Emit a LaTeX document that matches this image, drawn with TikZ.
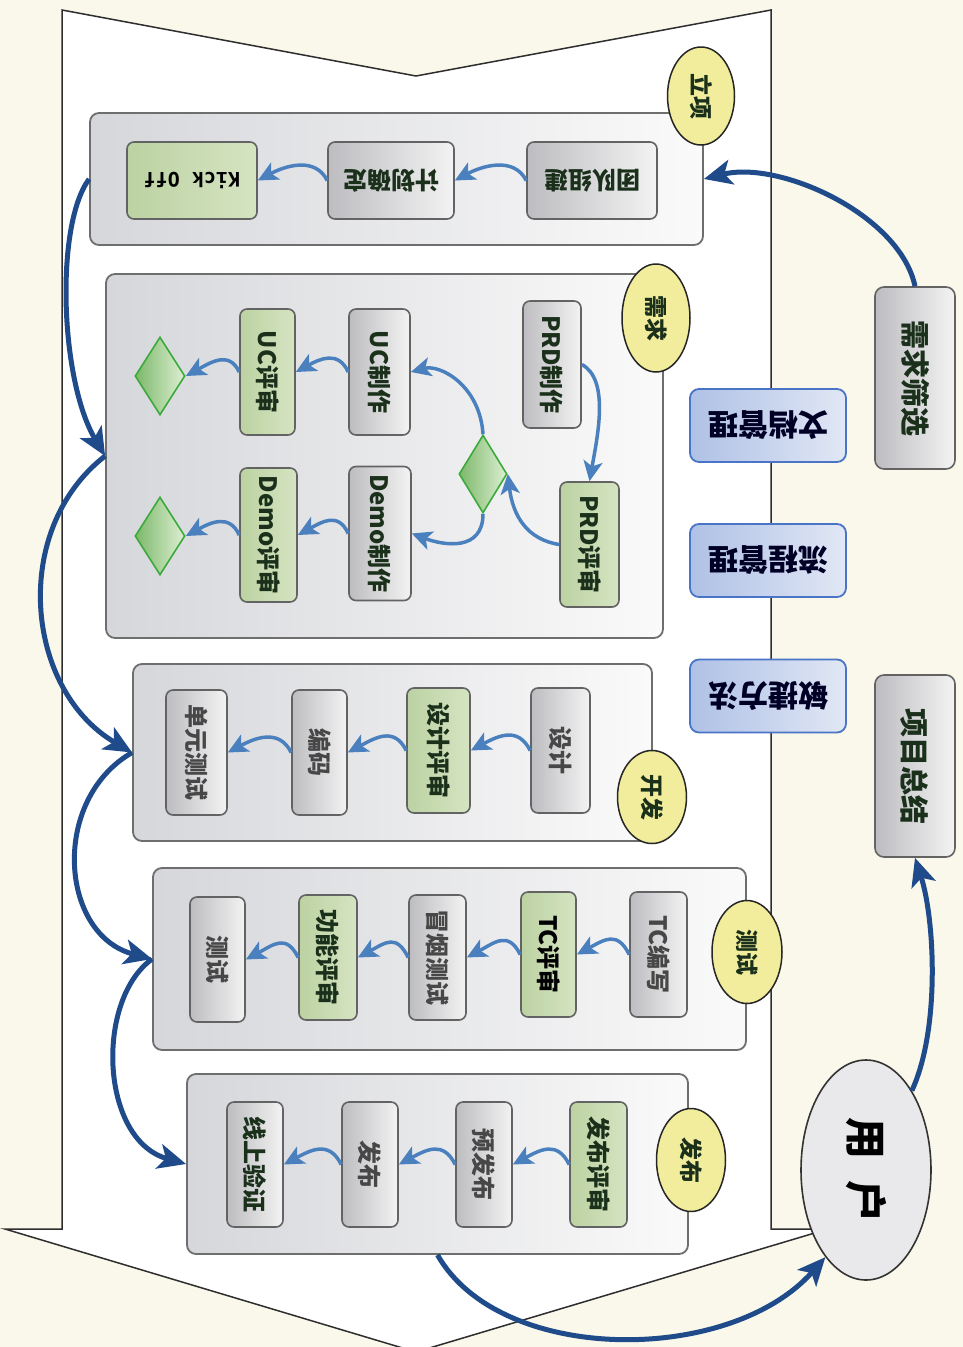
\documentclass[tikz,border=0pt]{standalone}
\usepackage{fontspec}
\usepackage{graphicx}
\setmainfont{Noto Sans CJK SC}
\newfontfamily\monof{DejaVu Sans Mono}
\usetikzlibrary{shapes.geometric,arrows.meta}
\definecolor{bgc}{HTML}{FAF8EA}
\definecolor{bodyline}{HTML}{2E2E2E}
\definecolor{boxline}{HTML}{6E6E6E}
\definecolor{boxl}{HTML}{D6D7DB}
\definecolor{boxr}{HTML}{FAFAFA}
\definecolor{gl}{HTML}{BDBDC1}
\definecolor{gr}{HTML}{F3F3F3}
\definecolor{grl}{HTML}{BCD2A2}
\definecolor{grr}{HTML}{D5E4C2}
\definecolor{dml}{HTML}{7DB86B}
\definecolor{dmr}{HTML}{DDEFD2}
\definecolor{dmline}{HTML}{3CAA3A}
\definecolor{yel}{HTML}{F1ED9C}
\definecolor{bll}{HTML}{AFC1E6}
\definecolor{blr}{HTML}{E1E7F5}
\definecolor{blline}{HTML}{4A74C6}
\definecolor{steel}{HTML}{4A80BD}
\definecolor{navy}{HTML}{1F4B8B}
\definecolor{txtd}{HTML}{1B301B}
\definecolor{txtg}{HTML}{474747}
\definecolor{userfill}{HTML}{E9E9EB}
\newcommand\rv[1]{\rotatebox{-90}{#1}}
\newcommand\ru[1]{\rotatebox{180}{#1}}
\newcommand\flowarr[2]{\draw[flow] (#1.west) .. controls +(-12,-24) and +(28,-15) .. (#2.east);}
\begin{document}
\begin{tikzpicture}[x=1pt,y=-1pt,
  phasebox/.style={rectangle, rounded corners=9pt, draw=boxline, line width=1.8pt, left color=boxl, right color=boxr, inner sep=0pt},
  graynode/.style={rectangle, rounded corners=7pt, draw=boxline!90!black, line width=1.6pt, left color=gl, right color=gr, inner sep=0pt, text=txtd, font=\bfseries\fontsize{24}{26}\selectfont, minimum height=125pt},
  greennode/.style={graynode, left color=grl, right color=grr},
  lightnode/.style={graynode, text=txtg},
  decision/.style={diamond, draw=dmline, line width=1.6pt, left color=dml, right color=dmr, inner sep=0pt, minimum width=50pt, minimum height=78pt},
  phaselabel/.style={ellipse, draw=black!85, line width=1.5pt, fill=yel, inner sep=0pt, text=txtd, font=\bfseries\fontsize{23}{25}\selectfont, minimum width=68pt, minimum height=102pt},
  bluenode/.style={rectangle, rounded corners=9pt, draw=blline, line width=1.8pt, left color=bll, right color=blr, inner sep=0pt, minimum width=156pt, minimum height=73pt, text=black!85!blue, font=\bfseries\fontsize{30}{32}\selectfont},
  sidenode/.style={graynode, minimum width=80pt, minimum height=182pt, font=\bfseries\fontsize{29}{31}\selectfont, rounded corners=9pt},
  flow/.style={draw=steel, line width=3.5pt, -{Stealth[length=20pt,width=19pt,inset=5pt]}},
  bigflow/.style={draw=navy, line width=5pt, -{Stealth[length=28pt,width=25pt,inset=7pt]}}
]
\useasboundingbox (0,0) rectangle (963,1347);
\fill[bgc] (0,0) rectangle (963,1347);
% body
\draw[fill=white, draw=bodyline, line width=1.5pt, line join=miter]
  (62,10) -- (416,76) -- (771,10) -- (771,1229) -- (828,1229) -- (416,1352) -- (5,1229) -- (62,1229) -- cycle;

% phase boxes
\node[phasebox, minimum width=613pt, minimum height=132pt] (p1) at (396.5,179) {};
\node[phasebox, minimum width=557pt, minimum height=364pt] (p2) at (384.5,456) {};
\node[phasebox, minimum width=519pt, minimum height=177pt] (p3) at (392.5,752.5) {};
\node[phasebox, minimum width=593pt, minimum height=182pt] (p4) at (449.5,959) {};
\node[phasebox, minimum width=501pt, minimum height=180pt] (p5) at (437.5,1164) {};

% phase labels
\node[phaselabel, minimum width=67pt, minimum height=98pt] (l1) at (701,96) {\rv{立项}};
\node[phaselabel, minimum height=108pt] (l2) at (656,318) {\rv{需求}};
\node[phaselabel, minimum width=69pt, minimum height=93pt] (l3) at (652,797) {\rv{开发}};
\node[phaselabel, minimum width=70pt, minimum height=103pt] (l4) at (747,952) {\rv{测试}};
\node[phaselabel, minimum width=69pt, minimum height=103pt] (l5) at (691,1160) {\rv{发布}};

% row 1
\node[graynode, minimum width=130pt, minimum height=77pt] (tz) at (592,180.5) {\ru{团队组建}};
\node[graynode, minimum width=126pt, minimum height=77pt] (jh) at (391,180.5) {\ru{计划确定}};
\node[greennode, minimum width=130pt, minimum height=77pt, text=black, font=\monof\bfseries\fontsize{20}{22}\selectfont] (ko) at (192,180.5) {\ru{Kick Off}};

% row 2
\begin{scope}[every node/.append style={font=\bfseries\fontsize{21}{23}\selectfont}]
\node[graynode, minimum width=58pt, minimum height=127pt] (prdz) at (552,364.5) {\rv{PRD制作}};
\node[greennode, minimum width=59pt, minimum height=125pt] (prdp) at (589.5,544.5) {\rv{PRD评审}};
\node[graynode, minimum width=61pt, minimum height=126pt] (ucz) at (379.5,372) {\rv{UC制作}};
\node[graynode, minimum width=62pt, minimum height=134pt] (demoz) at (380,533.5) {\rv{Demo制作}};
\node[greennode, minimum width=55pt, minimum height=126pt] (ucp) at (267.5,372) {\rv{UC评审}};
\node[greennode, minimum width=57pt, minimum height=134pt] (demop) at (268.5,535) {\rv{Demo评审}};
\end{scope}
\node[decision, minimum width=48pt] (dm) at (483,474) {};
\node[decision] (d1) at (160,376) {};
\node[decision] (d2) at (160,536) {};

% row 3
\node[lightnode, minimum width=59pt] (sj) at (560.5,750.5) {\rv{设计}};
\node[greennode, minimum width=63pt] (sjps) at (438.5,750.5) {\rv{设计评审}};
\node[lightnode, minimum width=55pt] (bm) at (319.5,752.5) {\rv{编码}};
\node[lightnode, minimum width=61pt] (dy) at (196.5,752.5) {\rv{单元测试}};

% row 4
\node[lightnode, minimum width=57pt] (tcw) at (658.5,954.5) {\rv{TC编写}};
\node[greennode, minimum width=55pt, text=black] (tcp) at (548.5,954.5) {\rv{TC评审}};
\node[lightnode, minimum width=57pt] (myc) at (437.5,957.5) {\rv{冒烟测试}};
\node[greennode, minimum width=58pt] (gnp) at (328,957.5) {\rv{功能评审}};
\node[lightnode, minimum width=55pt] (cs) at (217.5,959.5) {\rv{测试}};

% row 5
\node[greennode, minimum width=57pt] (fbp) at (598.5,1164.5) {\rv{发布评审}};
\node[lightnode, minimum width=56pt] (yfb) at (484,1164.5) {\rv{预发布}};
\node[lightnode, minimum width=56pt] (fb) at (370,1164.5) {\rv{发布}};
\node[lightnode, minimum width=56pt, text=txtd] (sx) at (255,1164.5) {\rv{线上验证}};

% side nodes
\node[sidenode] (xqsx) at (915,378) {\rv{需求筛选}};
\node[sidenode] (xmzj) at (915,766) {\rv{项目总结}};
\node[bluenode] (wd) at (768,425.5) {\ru{文档管理}};
\node[bluenode] (lc) at (768,560.5) {\ru{流程管理}};
\node[bluenode] (mj) at (768,696) {\ru{敏捷方法}};

% user
\node[ellipse, draw=black!80, line width=1.6pt, fill=userfill, minimum width=130pt, minimum height=220pt, inner sep=0pt, font=\bfseries\fontsize{42}{44}\selectfont] (user) at (866,1170) {\rv{用\hspace{22pt}户}};

% thin flows
\flowarr{tz}{jh}
\flowarr{jh}{ko}
\draw[flow] (prdz.east) .. controls +(28,15) and +(8,-45) .. (prdp.north);
\draw[flow] (prdp.west) .. controls +(-32,-5) and +(5,42) .. (dm.east);
\draw[flow] (dm.north) .. controls +(-3,-48) and +(30,-8) .. (ucz.east);
\draw[flow] (dm.south) .. controls +(0,38) and +(32,12) .. (demoz.east);
\draw[flow] (ucz.west) .. controls +(-10,-22) and +(24,-13) .. (ucp.east);
\draw[flow] (ucp.west) .. controls +(-10,-22) and +(24,-13) .. (d1.east);
\draw[flow] (demoz.west) .. controls +(-10,-22) and +(24,-13) .. (demop.east);
\draw[flow] (demop.west) .. controls +(-10,-22) and +(24,-13) .. (d2.east);
\flowarr{sj}{sjps}
\flowarr{sjps}{bm}
\flowarr{bm}{dy}
\flowarr{tcw}{tcp}
\flowarr{tcp}{myc}
\flowarr{myc}{gnp}
\flowarr{gnp}{cs}
\flowarr{fbp}{yfb}
\flowarr{yfb}{fb}
\flowarr{fb}{sx}

% big flows
\draw[bigflow] (xqsx.north) .. controls (900,215) and (780,160) .. (p1.east);
\draw[bigflow] (p1.west) .. controls (55,225) and (60,380) .. (p2.west);
\draw[bigflow] (p2.west) .. controls (10,530) and (25,690) .. (p3.west);
\draw[bigflow] (p3.west) .. controls (50,800) and (60,935) .. (p4.west);
\draw[bigflow] (p4.west) .. controls (95,1000) and (100,1140) .. (p5.west);
\draw[bigflow] (p5.south) .. controls (500,1365) and (730,1365) .. (user.245);
\draw[bigflow] (user.60) .. controls (940,1030) and (935,920) .. (xmzj.south);
\end{tikzpicture}
\end{document}
